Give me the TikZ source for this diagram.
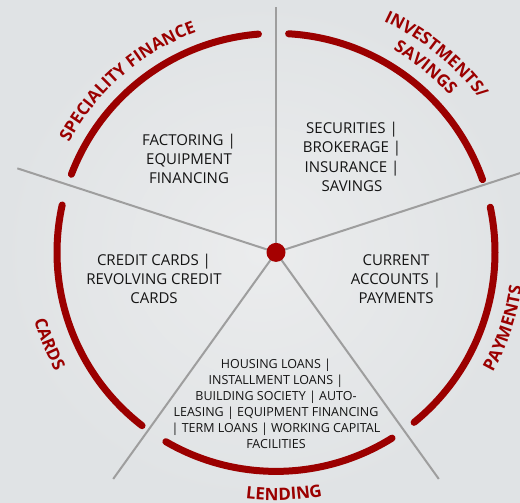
\documentclass[tikz,border=0pt]{standalone}
\usepackage{fontspec}
\setmainfont{Open Sans}
\usetikzlibrary{decorations.text}
\definecolor{arcred}{RGB}{155,0,0}
\definecolor{dotred}{RGB}{165,0,0}
\definecolor{spokegray}{RGB}{158,158,158}
\definecolor{txt}{RGB}{20,20,20}
\definecolor{bgA}{RGB}{235,236,237}
\definecolor{bgB}{RGB}{224,227,229}
\tikzset{
 seg/.style={line width=7pt, draw=arcred, line cap=round},
 spoke/.style={line width=2pt, draw=spokegray},
 cell/.style={align=center, text=txt, inner sep=0pt, font=\fontsize{15}{19.3}\selectfont},
 smallcell/.style={align=center, text=txt, inner sep=0pt, font=\fontsize{12.5}{16}\selectfont},
 lab/.style={decorate, decoration={text along path, text align=center,
   text={|\fontsize{17}{20}\selectfont\bfseries\color{arcred}|#1}}},
}
\begin{document}
\begin{tikzpicture}[x=1pt,y=1pt]
\useasboundingbox (0,0) rectangle (520,503);
\clip (0,0) rectangle (520,503);
\shade[inner color=bgA, outer color=bgB] (0,0) rectangle (520,503);
\coordinate (c) at (276,250.6);
\begin{scope}[shift={(c)}]
 \coordinate (eU) at (90:245pt);
 \coordinate (eUL) at (162:272pt);
 \coordinate (eUR) at (18:268pt);
 \coordinate (eLL) at (234.3:279pt);
 \coordinate (eLR) at (305.7:279pt);
 \draw[spoke] (c) -- (eU);
 \draw[spoke] (c) -- (eUL);
 \draw[spoke] (c) -- (eUR);
 \draw[spoke] (c) -- (eLL);
 \draw[spoke] (c) -- (eLR);
 \draw[seg] (94.6:219pt) arc[start angle=94.6, end angle=159.1, radius=219pt];
 \draw[seg] (19.4:219pt) arc[start angle=19.4, end angle=86.7, radius=219pt];
 \draw[seg] (-50.9:219pt) arc[start angle=-50.9, end angle=11.9, radius=219pt];
 \draw[seg] (239.8:219pt) arc[start angle=239.8, end angle=302.0, radius=219pt];
 \draw[seg] (167.5:219pt) arc[start angle=167.5, end angle=232.3, radius=219pt];
 \path[lab={SPECIALITY FINANCE}] (166:234pt) arc[start angle=166, end angle=96, radius=234pt];
 \path[lab={INVESTMENTS/}] (86:255pt) arc[start angle=86, end angle=16, radius=255pt];
 \path[lab={SAVINGS}] (86:234pt) arc[start angle=86, end angle=16, radius=234pt];
 \path[lab={PAYMENTS}] (-53.5:248pt) arc[start angle=-53.5, end angle=16.5, radius=248pt];
 \path[lab={LENDING}] (236.9:248pt) arc[start angle=236.9, end angle=306.9, radius=248pt];
 \path[lab={CARDS}] (167:251pt) arc[start angle=167, end angle=237, radius=251pt];
\end{scope}
\node[circle, fill=dotred, minimum size=19pt, inner sep=0pt] (dot) at (c) {};
\node[cell] (fact) at (189,344) {FACTORING |\\EQUIPMENT\\FINANCING};
\node[cell] (sec) at (352,346) {SECURITIES |\\BROKERAGE |\\INSURANCE |\\SAVINGS};
\node[cell] (cred) at (154,224) {CREDIT CARDS |\\REVOLVING CREDIT\\CARDS};
\node[cell] (curr) at (396,224) {CURRENT\\ACCOUNTS |\\PAYMENTS};
\node[smallcell] (lend) at (276,99) {HOUSING LOANS |\\INSTALLMENT LOANS |\\BUILDING SOCIETY | AUTO-\\LEASING | EQUIPMENT FINANCING\\| TERM LOANS | WORKING CAPITAL\\FACILITIES};
\end{tikzpicture}
\end{document}
